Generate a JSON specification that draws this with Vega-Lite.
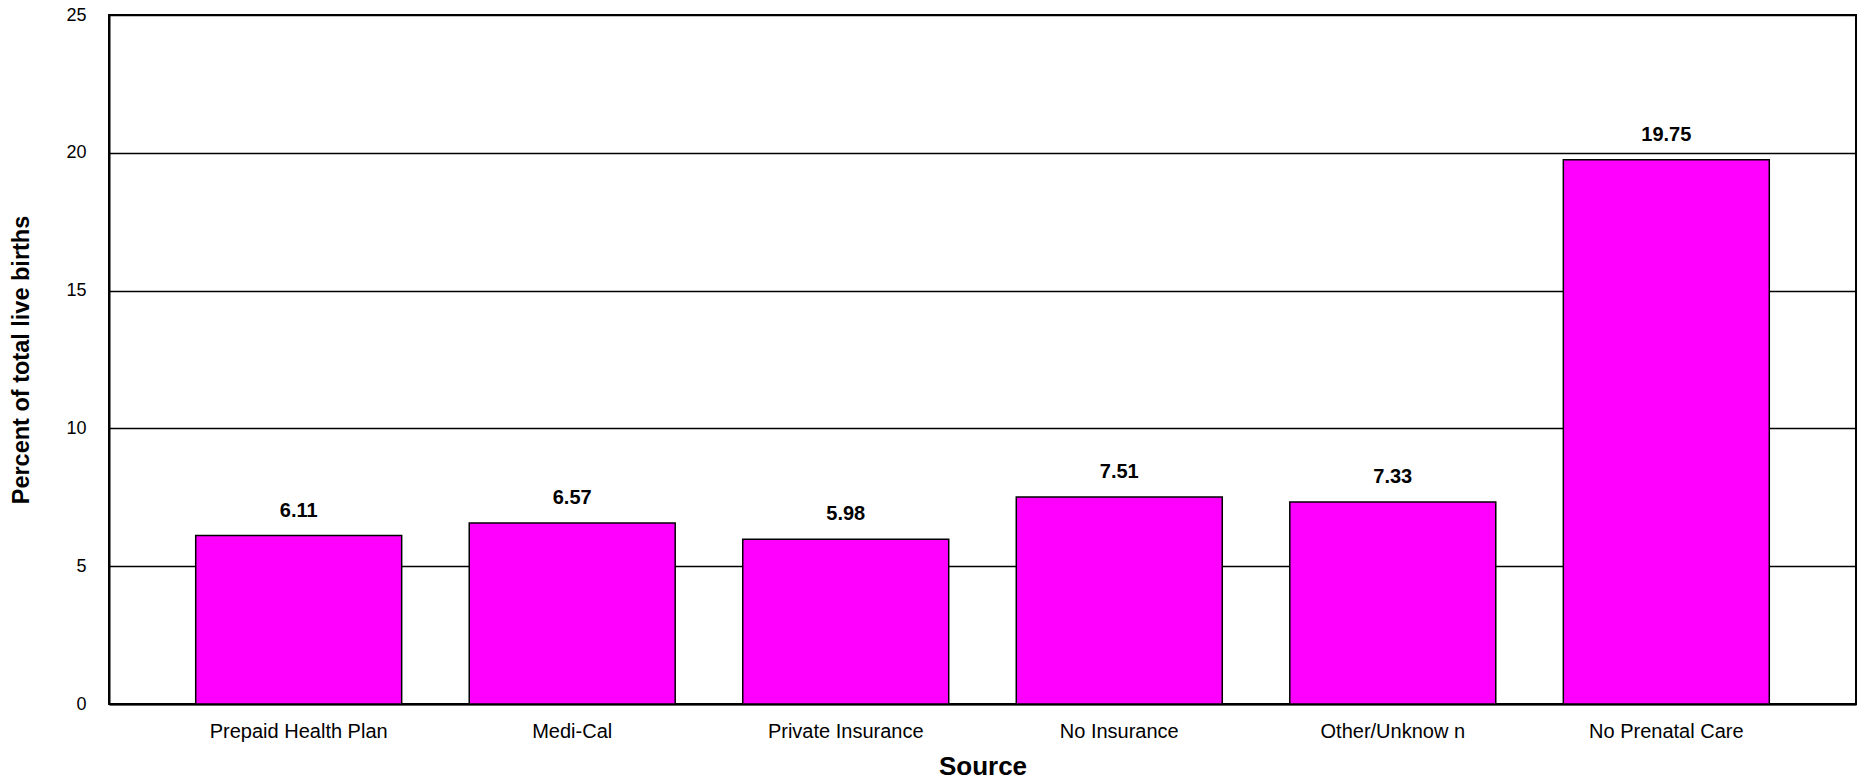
{
  "$schema": "https://vega.github.io/schema/vega-lite/v6.json",
  "autosize": "none",
  "width": 1747,
  "height": 689,
  "padding": {"left": 109, "top": 15, "right": 2, "bottom": 75},
  "background": "white",
  "config": {
    "font": "Liberation Sans",
    "view": {"stroke": "black", "strokeWidth": 2},
    "axis": {"labelColor": "black", "titleColor": "black", "labelFont": "Liberation Sans", "titleFont": "Liberation Sans"}
  },
  "data": {
    "values": [
      {"source": "Prepaid Health Plan", "pct": 6.11},
      {"source": "Medi-Cal", "pct": 6.57},
      {"source": "Private Insurance", "pct": 5.98},
      {"source": "No Insurance", "pct": 7.51},
      {"source": "Other/Unknow n", "pct": 7.33},
      {"source": "No Prenatal Care", "pct": 19.75}
    ]
  },
  "encoding": {
    "x": {
      "field": "source",
      "type": "nominal",
      "sort": null,
      "scale": {"paddingInner": 0.247, "paddingOuter": 0.317},
      "axis": {
        "title": "Source",
        "labelAngle": 0,
        "labelFontSize": 20,
        "labelPadding": 17,
        "ticks": false,
        "tickSize": 0,
        "domain": true,
        "domainColor": "black",
        "domainWidth": 2,
        "titleFontSize": 26,
        "titleFontWeight": "bold",
        "titlePadding": 12
      }
    },
    "y": {
      "field": "pct",
      "type": "quantitative",
      "scale": {"domain": [0, 25], "nice": false},
      "axis": {
        "title": "Percent of total live births",
        "values": [0, 5, 10, 15, 20, 25],
        "labelFontSize": 18,
        "labelPadding": 23,
        "ticks": false,
        "tickSize": 0,
        "domain": true,
        "domainColor": "black",
        "domainWidth": 2,
        "grid": true,
        "gridColor": "black",
        "gridOpacity": 1,
        "gridWidth": 1.5,
        "titleFontSize": 23.5,
        "titleFontWeight": "bold",
        "titlePadding": 32
      }
    }
  },
  "layer": [
    {
      "mark": {"type": "bar", "fill": "#FF00FF", "stroke": "black", "strokeWidth": 1.5}
    },
    {
      "mark": {"type": "text", "fontSize": 20, "fontWeight": "bold", "baseline": "alphabetic", "dy": -19, "color": "black"},
      "encoding": {"text": {"field": "pct", "type": "quantitative", "format": ".2f"}}
    }
  ]
}
